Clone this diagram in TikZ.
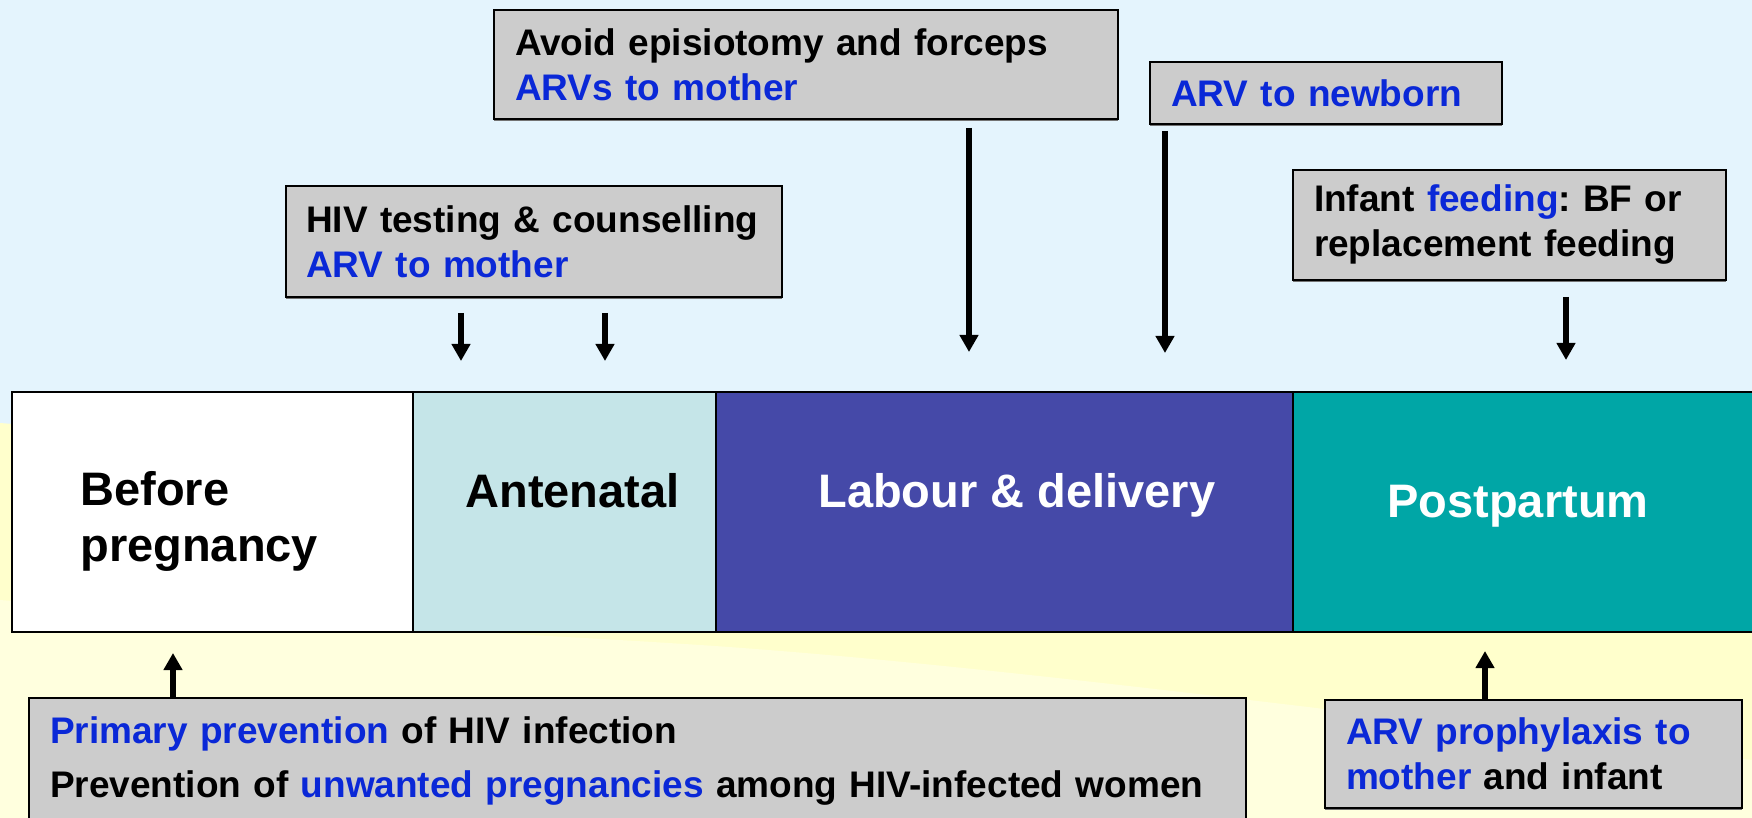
\documentclass[tikz,border=0pt]{standalone}
\usepackage{fontspec}
\setmainfont{Liberation Sans}
\usetikzlibrary{arrows.meta,shadows}
\definecolor{skyback}{RGB}{228,244,253}
\definecolor{sandback}{RGB}{255,255,204}
\definecolor{sandlight}{RGB}{255,255,222}
\definecolor{boxgray}{RGB}{204,204,204}
\definecolor{arvblue}{RGB}{10,40,215}
\definecolor{antecyan}{RGB}{197,229,232}
\definecolor{labourblue}{RGB}{69,73,168}
\definecolor{postteal}{RGB}{0,166,166}
\frenchspacing
\newcommand{\bodyfont}{\fontsize{18.5}{22.5}\selectfont\bfseries}
\newcommand{\phasefont}{\fontsize{23.5}{28}\selectfont\bfseries}
\newcommand{\arv}[1]{\textcolor{arvblue}{#1}}
\tikzset{
    infobox/.style={draw=black, line width=1pt, fill=boxgray, anchor=north west,
        align=left, inner ysep=0pt, inner xsep=10.5pt, font=\bodyfont,
        drop shadow={shadow xshift=0pt, shadow yshift=-1pt, opacity=1, fill=black!55}},
    phase/.style={draw=black, line width=1pt, anchor=north west, inner sep=0pt,
        outer sep=0pt, minimum height=120pt},
    phase label/.style={inner sep=0pt, font=\phasefont, align=left},
    arr/.style={-{Triangle[length=8.5pt,width=9pt]}, line width=2.7pt},
}

\begin{document}
\begin{tikzpicture}[x=0.5pt, y=-0.5pt]
    \useasboundingbox (0,0) rectangle (1752,818);
    \clip (0,0) rectangle (1752,818);

    % background
    \fill[skyback] (0,0) rectangle (1752,818);
    \fill[sandback] (0,423) .. controls (600,470) and (1200,520) .. (1752,560)
        -- (1752,818) -- (0,818) -- cycle;
    \fill[sandlight] (0,600) .. controls (300,625) and (500,632) .. (700,645)
        .. controls (1000,665) and (1400,720) .. (1752,760)
        -- (1752,818) -- (0,818) -- cycle;

    % phases
    \node[phase, fill=white, minimum width=200.5pt] (before) at (12,392) {};
    \node[phase, fill=antecyan, minimum width=151.5pt] (antenatal) at (413,392) {};
    \node[phase, fill=labourblue, minimum width=288.5pt] (labour) at (716,392) {};
    \node[phase, fill=postteal, minimum width=230pt] (postpartum) at (1293,392) {};

    \node[phase label, anchor=west] (before label) at (80,521) {Before\\pregnancy};
    \node[phase label, anchor=base west] (antenatal label) at (465,507) {Antenatal};
    \node[phase label, anchor=base west, text=white] (labour label) at (818,507) {Labour \& delivery};
    \node[phase label, anchor=base west, text=white] (postpartum label) at (1387,517) {Postpartum};

    % interventions
    \node[infobox, text width=291pt, minimum height=54.5pt] (avoid) at (493,9)
        {Avoid episiotomy and forceps\\ \arv{ARVs to mother}};
    \node[infobox, text width=155pt, minimum height=31pt] (newborn) at (1149,61)
        {\arv{ARV to newborn}};
    \node[infobox, text width=228pt, inner xsep=10pt, minimum height=55.5pt] (testing) at (285,185)
        {HIV testing \& counselling\\ \arv{ARV to mother}};
    \node[infobox, text width=195.5pt, minimum height=55pt] (feeding) at (1292,169)
        {Infant \arv{feeding}: BF or\\ replacement feeding};
    \node[infobox, text width=587.5pt, inner ysep=9.5pt] (primary) at (28,697)
        {\arv{Primary prevention} of HIV infection\\[4.5pt]
         Prevention of \arv{unwanted pregnancies} among HIV-infected women};
    \node[infobox, text width=187.5pt, minimum height=54pt] (prophylaxis) at (1324,699)
        {\arv{ARV prophylaxis to}\\ \arv{mother} and infant};

    % arrows
    \coordinate (testtail1) at (461,313);  \coordinate (testtip1) at (461,361);
    \coordinate (testtail2) at (605,313);  \coordinate (testtip2) at (605,361);
    \coordinate (avoidtail) at (969,128);  \coordinate (avoidtip) at (969,352);
    \coordinate (borntail) at (1165,131);  \coordinate (borntip) at (1165,353);
    \coordinate (feedtail) at (1566,297);  \coordinate (feedtip) at (1566,360);
    \coordinate (primtip) at (173,653);
    \coordinate (prophtip) at (1485,651);

    \draw[arr] (testtail1) -- (testtip1);
    \draw[arr] (testtail2) -- (testtip2);
    \draw[arr] (avoidtail) -- (avoidtip);
    \draw[arr] (borntail) -- (borntip);
    \draw[arr] (feedtail) -- (feedtip);
    \draw[arr] (primary.north -| primtip) -- (primtip);
    \draw[arr] (prophylaxis.north -| prophtip) -- (prophtip);
\end{tikzpicture}
\end{document}
